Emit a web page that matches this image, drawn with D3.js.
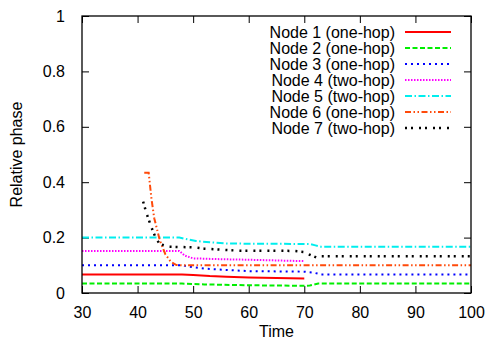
<!DOCTYPE html>
<html>
<head>
<meta charset="utf-8">
<script src="https://cdn.jsdelivr.net/npm/d3@7"></script>
<style>
body { margin: 0; background: #fff; }
text { font-family: "Liberation Sans", Arial, sans-serif; font-size: 16px; fill: #000; }
</style>
</head>
<body>
<div id="chart"></div>
<script>
var svgWidth = 486
var svgHeight = 341
var margin = { left: 82, right: 15, top: 16, bottom: 48 }

// data
var names = ["Node 1 (one-hop)", "Node 2 (one-hop)", "Node 3 (one-hop)", "Node 4 (two-hop)",
             "Node 5 (two-hop)", "Node 6 (one-hop)", "Node 7 (two-hop)"]
var t1 = [30, 48, 50, 53, 56, 60, 65, 70]
var v1 = [0.067, 0.067, 0.065, 0.061, 0.059, 0.056, 0.054, 0.052]
var t2 = [30, 48, 52, 60, 70, 71, 72.5, 100]
var v2 = [0.034, 0.034, 0.031, 0.028, 0.026, 0.027, 0.034, 0.034]
var t3 = [30, 48, 50, 52, 56, 60, 70, 72, 73, 100]
var v3 = [0.1, 0.1, 0.093, 0.088, 0.083, 0.079, 0.077, 0.072, 0.067, 0.067]
var t4 = [30, 47.5, 48.5, 50, 55, 60, 70]
var v4 = [0.152, 0.152, 0.135, 0.125, 0.122, 0.12, 0.115]
var t5 = [30, 47.5, 50.5, 53, 56, 60, 71, 72, 73, 100]
var v5 = [0.2, 0.2, 0.188, 0.183, 0.179, 0.178, 0.177, 0.172, 0.167, 0.167]
var t6 = [41.2, 42, 42.5, 43, 44, 45, 46, 47, 48, 100]
var v6 = [0.434, 0.434, 0.34, 0.27, 0.19, 0.14, 0.112, 0.101, 0.1, 0.1]
var t7 = [41, 41.6, 42.5, 43.3, 44, 45.5, 50, 52, 58, 68, 70, 71, 72.3, 73, 100]
var v7 = [0.33, 0.288, 0.237, 0.197, 0.177, 0.167, 0.165, 0.16, 0.153, 0.152, 0.148, 0.138, 0.127, 0.133, 0.133]
var xTicks = [30, 40, 50, 60, 70, 80, 90, 100]
var yTicks = [0, 0.2, 0.4, 0.6, 0.8, 1]

var times = [t1, t2, t3, t4, t5, t6, t7]
var values = [v1, v2, v3, v4, v5, v6, v7]
var colors = ["#ff0000", "#00ee00", "#0000ff", "#ff00ff", "#00eeee", "#ff4a0a", "#000000"]
var dashes = ["none", "5,2.5", "2,4", "1.5,1.5", "7,2.5,1.5,2.5", "6,2.5,1.5,2.5,1.5,2.5", "2,4,2,6"]

var series = names.map(function(n, i){
  return { name: n, color: colors[i], dash: dashes[i],
           pts: times[i].map(function(t, j){ return [t, values[i][j]] }) }
})

var svg = d3.select("#chart").append("svg").attr("width", svgWidth).attr("height", svgHeight)

var x = d3.scaleLinear().domain([30, 100]).range([margin.left, svgWidth - margin.right])
var y = d3.scaleLinear().domain([0, 1]).range([svgHeight - margin.bottom, margin.top])

var tickLen = 7
// inward ticks on all four sides
svg.append("g").attr("transform", "translate(0," + y(0) + ")")
   .call(d3.axisBottom(x).tickValues(xTicks).tickSize(-tickLen).tickPadding(14).tickFormat(d3.format("d")))
svg.append("g").attr("transform", "translate(0," + y(1) + ")")
   .call(d3.axisTop(x).tickValues(xTicks).tickSize(-tickLen).tickFormat(""))
svg.append("g").attr("transform", "translate(" + x(30) + ",0)")
   .call(d3.axisLeft(y).tickValues(yTicks).tickSize(-tickLen).tickPadding(17).tickFormat(function(d){ return d3.format("")(d) }))
svg.append("g").attr("transform", "translate(" + x(100) + ",0)")
   .call(d3.axisRight(y).tickValues(yTicks).tickSize(-tickLen).tickFormat(""))
svg.selectAll(".domain").remove()
svg.selectAll(".tick line").attr("stroke", "#000").attr("stroke-width", 1)
svg.selectAll(".tick text").attr("font-family", "Liberation Sans, Arial, sans-serif").attr("font-size", 16).attr("fill", "#000")

var line = d3.line().x(function(d){ return x(d[0]) }).y(function(d){ return y(d[1]) })

svg.selectAll("path.series")
   .data(series)
   .enter()
   .append("path")
   .attr("class", "series")
   .attr("fill", "none")
   .attr("stroke", function(d){ return d.color })
   .attr("stroke-width", function(d, i){ return i == 6 ? 2.5 : 2 })
   .attr("stroke-dasharray", function(d){ return d.dash })
   .attr("d", function(d){ return line(d.pts) })

// frame
svg.append("rect")
   .attr("x", x(30)).attr("y", y(1))
   .attr("width", x(100) - x(30)).attr("height", y(0) - y(1))
   .attr("fill", "none").attr("stroke", "#000").attr("stroke-width", 1.3)

// legend
var legend = svg.selectAll("g.legend")
   .data(series)
   .enter()
   .append("g")
   .attr("class", "legend")
   .attr("transform", function(d, i){ return "translate(0," + (32 + i * 16) + ")" })
legend.append("text")
   .attr("x", 395).attr("y", 0).attr("dy", "0.35em")
   .attr("text-anchor", "end")
   .text(function(d){ return d.name })
legend.append("line")
   .attr("x1", 405).attr("x2", 451)
   .attr("stroke", function(d){ return d.color })
   .attr("stroke-width", function(d, i){ return i == 6 ? 2.5 : 2 })
   .attr("stroke-dasharray", function(d){ return d.dash })

// axis titles
svg.append("text")
   .attr("x", (x(30) + x(100)) / 2).attr("y", 337)
   .attr("text-anchor", "middle")
   .text("Time")
svg.append("text")
   .attr("transform", "translate(22," + (y(0) + y(1)) / 2 + ") rotate(-90)")
   .attr("text-anchor", "middle")
   .text("Relative phase")
</script>
</body>
</html>
